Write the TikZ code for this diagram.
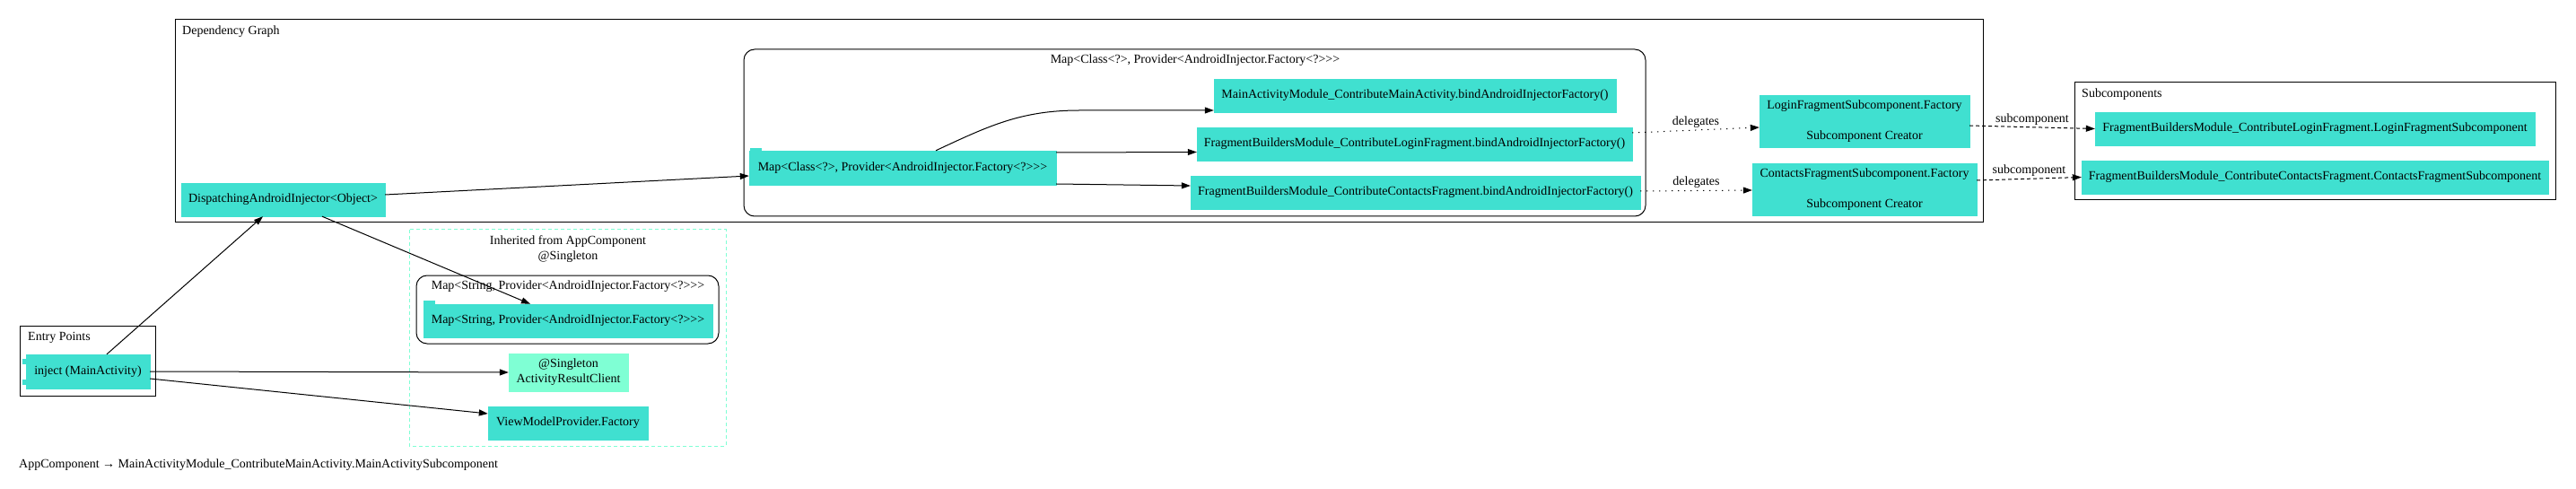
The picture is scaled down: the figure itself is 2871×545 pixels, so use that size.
\documentclass[tikz,border=0pt]{standalone}
\usepackage{fontspec}
\setmainfont{Liberation Serif}
\usepackage{tikz}
\usepackage{xcolor}
\usetikzlibrary{arrows.meta,positioning}
\definecolor{turq}{RGB}{64,224,208}
\definecolor{aqua}{RGB}{127,255,212}

\begin{document}
\begin{tikzpicture}[x=1pt,y=-1pt,
  font=\fontsize{14pt}{17pt}\selectfont,
  box/.style={draw=turq,fill=turq,inner sep=0pt,align=center,minimum height=37pt},
  tallbox/.style={box,minimum height=58pt},
  singlebox/.style={draw=aqua,fill=aqua,inner sep=0pt,align=center,minimum height=42pt},
  cluster/.style={draw=black,line width=1pt},
  mapcluster/.style={draw=black,line width=1pt,rounded corners=12pt},
  inherited/.style={draw=aqua,line width=1pt,dash pattern=on 4pt off 3pt},
  title/.style={inner sep=0pt},
  arrow/.style={-{Triangle[length=10pt,width=7pt]},line width=1pt,draw=black},
  delegate/.style={arrow,dash pattern=on 1.2pt off 5.8pt},
  subedge/.style={arrow,dash pattern=on 4pt off 3pt}
]
\useasboundingbox (0,0) rectangle (2871,545);

\draw[cluster] (195,22) rectangle (2210,248);
\draw[mapcluster] (829,55) rectangle (1834,241);
\draw[cluster] (2312,92) rectangle (2848,223);
\draw[cluster] (22,363) rectangle (173,441);
\draw[inherited] (456,256) rectangle (809,497);
\draw[mapcluster] (464,307) rectangle (801,383);

\node[title,anchor=west] (graphtitle) at (203,35) {Dependency Graph};
\node[title] (classmaptitle) at (1332,67) {Map<Class<?>, Provider<AndroidInjector.Factory<?>{}>{}>};
\node[title,anchor=west] (subtitle) at (2320,105) {Subcomponents};
\node[title,anchor=west] (entrytitle) at (31,376) {Entry Points};
\node[title,align=center] (inheritedtitle) at (633,277.5) {Inherited from AppComponent\\@Singleton};
\node[title] (stringmaptitle) at (633,319) {Map<String, Provider<AndroidInjector.Factory<?>{}>{}>};
\node[title,anchor=west] (footer) at (21,518) {AppComponent → MainActivityModule\_ContributeMainActivity.MainActivitySubcomponent};

\node[box,minimum width=227pt] (dispatcher) at (315.5,222.5) {DispatchingAndroidInjector<Object>};
\node[box,minimum width=342pt,minimum height=38pt] (classmap) at (1006,187) {Map<Class<?>, Provider<AndroidInjector.Factory<?>{}>{}>};
\node[box,minimum width=448pt] (mainbinding) at (1577,106.5) {MainActivityModule\_ContributeMainActivity.bindAndroidInjectorFactory()};
\node[box,minimum width=485pt] (loginbinding) at (1576.5,160.5) {FragmentBuildersModule\_ContributeLoginFragment.bindAndroidInjectorFactory()};
\node[box,minimum width=501pt] (contactsbinding) at (1577.5,214.5) {FragmentBuildersModule\_ContributeContactsFragment.bindAndroidInjectorFactory()};
\node[tallbox,minimum width=234pt] (loginfactory) at (2078,135) {LoginFragmentSubcomponent.Factory\\[17pt]Subcomponent Creator};
\node[tallbox,minimum width=250pt] (contactsfactory) at (2078,211) {ContactsFragmentSubcomponent.Factory\\[17pt]Subcomponent Creator};
\node[box,minimum width=490pt] (loginsub) at (2580,143.5) {FragmentBuildersModule\_ContributeLoginFragment.LoginFragmentSubcomponent};
\node[box,minimum width=520pt] (contactssub) at (2580,197.5) {FragmentBuildersModule\_ContributeContactsFragment.ContactsFragmentSubcomponent};
\node[box,minimum width=138pt,minimum height=38pt] (inject) at (98,414) {inject (MainActivity)};
\node[box,minimum width=322pt] (stringmap) at (633,357.5) {Map<String, Provider<AndroidInjector.Factory<?>{}>{}>};
\node[singlebox,minimum width=133pt] (resultclient) at (633.5,415) {@Singleton\\ActivityResultClient};
\node[box,minimum width=178pt] (vmfactory) at (633,471.5) {ViewModelProvider.Factory};

\fill[turq] ([xshift=1pt]classmap.north west) rectangle ++(13pt,3pt);
\fill[turq] (stringmap.north west) rectangle ++(13pt,4pt);
\fill[turq] ([yshift=-5pt]inject.north west) rectangle ++(-4pt,-6pt);
\fill[turq] ([yshift=4pt]inject.south west) rectangle ++(-4pt,6pt);

\draw[arrow] ([xshift=21pt]inject.north) -- ([xshift=-22.5pt]dispatcher.south);
\draw[arrow] ([xshift=43.5pt]dispatcher.south) -- ([xshift=-42pt]stringmap.north);
\draw[arrow] ([yshift=5.5pt]dispatcher.east) -- ([yshift=-9pt]classmap.west);
\draw[arrow] (inject.east) -- (resultclient.west);
\draw[arrow] ([yshift=-8pt]inject.east) -- ([yshift=10.5pt]vmfactory.west);
\draw[arrow] ([xshift=37pt]classmap.north) to[out=25,in=180] ([xshift=-150pt,yshift=-16.5pt]mainbinding.west) -- ([yshift=-16.5pt]mainbinding.west);
\draw[arrow] ([yshift=17pt]classmap.east) -- ([yshift=-9pt]loginbinding.west);
\draw[arrow] ([yshift=-18pt]classmap.east) -- ([yshift=7.5pt]contactsbinding.west);
\draw[delegate] ([yshift=12.5pt]loginbinding.east) -- node[above,inner sep=2pt] {delegates} ([yshift=-7pt]loginfactory.west);
\draw[delegate] ([yshift=1.5pt]contactsbinding.east) -- node[above,inner sep=2pt] {delegates} ([yshift=-1pt]contactsfactory.west);
\draw[subedge] ([yshift=-5pt]loginfactory.east) -- node[above,inner sep=2pt] {subcomponent} (loginsub.west);
\draw[subedge] ([yshift=10pt]contactsfactory.east) -- node[above,inner sep=2pt] {subcomponent} (contactssub.west);
\end{tikzpicture}
\end{document}
